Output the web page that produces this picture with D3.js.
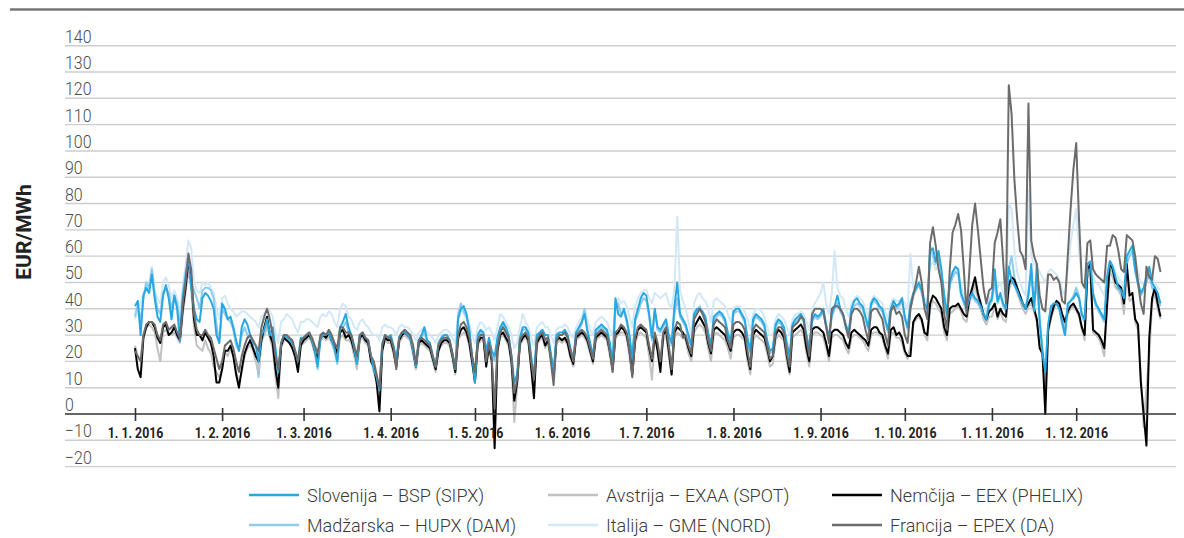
<!DOCTYPE html>
<html>
<head>
<meta charset="utf-8">
<script src="https://cdn.jsdelivr.net/npm/d3@7/dist/d3.min.js"></script>
<style>
  html, body { margin: 0; padding: 0; background: #ffffff; }
  svg { display: block; }
  text { font-family: 'DejaVu Sans Condensed', 'Liberation Sans', sans-serif; }
</style>
</head>
<body>
<svg id="chart" width="1184" height="538"></svg>
<script>
// ---------- DATA (daily prices 2016, EUR/MWh) ----------
const startDate = "2016-01-01";
const monthLabels = ["1. 1. 2016","1. 2. 2016","1. 3. 2016","1. 4. 2016","1. 5. 2016","1. 6. 2016",
                     "1. 7. 2016","1. 8. 2016","1. 9. 2016","1. 10. 2016","1. 11. 2016","1. 12. 2016"];
const yTicks = [-20,-10,0,10,20,30,40,50,60,70,80,90,100,110,120,130,140];

const slovenija = [
 41,43,30,45,48,46,53,44,37,35,45,49,44,36,45,40,28,44,52,60,48,40,36,35,44,46,45,43,40,30,27,
 42,40,36,37,33,28,24,33,36,34,30,27,26,20,30,32,36,30,33,25,16,27,30,29,28,27,24,20,29,
 29,30,31,28,24,18,29,30,30,31,28,25,20,33,35,38,33,30,25,19,30,31,29,28,22,17,14,9,27,30,29,
 30,26,21,29,31,31,30,29,24,18,28,30,33,28,27,22,18,27,29,30,30,28,23,17,36,40,41,38,32,22,
 12,30,32,31,24,29,24,22,29,33,35,33,30,22,12,15,29,33,33,31,22,14,30,31,32,30,30,23,16,30,31,
 31,32,30,25,21,31,33,35,38,32,27,22,32,33,34,33,32,27,19,44,38,37,40,36,30,21,36,40,44,46,
 45,38,29,40,33,32,34,36,30,27,41,50,38,36,34,30,26,38,40,40,39,37,31,26,37,38,39,38,36,31,27,
 39,40,40,38,36,29,24,36,38,37,36,34,28,24,25,34,36,35,33,27,22,34,36,37,38,36,30,25,36,38,37,
 38,40,34,29,38,41,45,40,38,34,31,40,43,44,42,41,37,33,42,44,43,41,40,36,32,40,43,41,42,44,
 37,33,42,46,48,50,47,42,40,62,63,58,62,55,45,38,50,54,56,55,46,43,40,44,46,44,43,41,38,36,42,
 44,55,43,46,42,40,56,51,49,47,44,42,40,45,57,39,57,35,23,16,34,41,42,42,40,35,30,42,43,44,
 46,44,38,36,57,58,46,42,40,38,36,52,58,56,52,48,47,44,60,62,64,55,50,46,48,52,56,50,48,46,42
];
const avstrija = [
 26,22,20,30,33,34,33,31,25,20,31,32,30,30,31,29,27,38,46,55,48,33,26,25,24,28,25,23,18,16,14,
 17,24,22,25,22,16,12,16,22,25,26,24,20,16,27,31,34,29,25,14,6,25,28,28,27,25,21,17,26,
 27,28,29,27,23,20,28,29,28,29,27,24,21,29,30,28,28,27,22,17,28,29,27,26,20,17,12,8,24,28,27,
 27,23,18,27,29,30,29,28,23,17,26,27,26,25,24,20,16,24,26,27,27,26,21,15,28,30,31,30,26,19,
 13,26,28,28,19,25,19,2,24,29,30,28,26,19,-3,10,26,28,29,27,17,12,26,28,29,25,27,21,15,27,28,
 27,28,26,21,18,28,29,30,29,27,23,19,28,29,30,29,28,22,16,29,30,31,31,29,22,15,27,30,31,30,
 29,22,13,29,26,20,28,30,22,15,29,31,30,29,28,23,20,31,33,34,33,31,25,20,30,31,30,29,28,25,21,
 29,30,30,29,28,20,15,28,30,29,28,27,23,18,19,28,30,29,28,20,15,29,30,31,32,30,23,18,30,31,31,
 30,29,25,20,29,30,30,29,28,25,23,29,30,30,29,28,26,24,30,31,31,30,29,25,21,30,31,29,29,27,
 23,21,26,34,36,37,35,30,28,40,43,42,40,38,31,28,38,39,40,41,39,36,35,42,46,49,44,40,36,34,37,
 37,41,36,39,36,35,47,50,49,46,43,40,38,41,42,39,35,26,22,10,31,36,40,42,41,36,33,38,40,41,
 39,37,32,28,52,54,31,30,29,26,22,40,54,52,48,47,45,38,53,43,44,35,32,15,-5,10,22,42,46,40,36
];
const nemcija = [
 25,17,14,29,33,35,35,33,29,27,33,34,30,31,33,30,28,40,48,58,52,36,30,30,28,31,29,27,22,12,12,
 17,24,24,26,22,15,10,17,23,26,28,25,22,20,28,33,37,30,27,17,10,26,29,28,27,25,22,16,26,
 28,29,30,28,24,21,29,30,29,31,28,26,23,31,32,29,30,28,24,20,29,30,28,27,20,18,12,1,24,29,28,
 28,24,18,28,30,31,30,29,24,18,27,28,27,26,25,21,17,24,27,28,28,27,22,16,29,32,33,31,27,20,
 12,27,29,29,18,26,20,-13,24,30,31,29,27,20,5,12,27,29,30,28,18,6,27,29,30,26,28,22,14,28,29,
 28,29,27,22,19,29,30,31,30,28,24,20,29,30,31,30,29,24,17,30,31,33,32,30,24,15,28,32,33,32,
 31,25,20,30,24,16,30,32,24,15,31,33,32,31,29,25,22,33,35,37,35,33,27,23,32,33,32,31,30,27,24,
 31,32,32,31,29,22,17,30,32,31,30,29,25,20,22,30,32,31,29,22,16,31,32,33,34,32,25,20,32,33,33,
 32,31,27,22,31,32,32,31,30,27,25,31,32,31,30,29,28,26,32,33,33,31,30,26,23,32,33,30,31,29,
 24,22,22,35,37,38,36,31,30,42,45,44,42,40,33,30,40,41,41,42,40,38,37,44,48,52,46,42,38,36,39,
 40,42,37,40,38,37,49,52,51,48,45,42,40,42,44,40,36,25,23,0,32,37,41,43,42,38,35,39,41,42,
 40,38,33,30,55,57,32,31,30,28,25,42,58,55,50,49,48,42,57,45,46,36,34,12,0,-12,29,44,48,42,37
];
const madzarska = [
 37,42,35,44,50,48,55,46,40,38,46,48,46,40,45,42,33,46,54,58,50,47,44,40,47,48,48,47,44,34,27,
 40,38,36,35,32,26,24,30,33,30,28,26,22,14,28,30,33,30,29,22,14,26,29,28,27,26,22,18,27,
 27,28,29,27,23,17,28,29,29,30,27,24,19,31,33,35,31,29,24,18,29,30,28,27,21,16,13,9,26,29,28,
 29,25,20,28,30,30,29,28,23,17,27,29,31,27,26,21,17,26,28,29,29,27,22,16,38,42,39,37,31,21,
 14,29,31,30,23,28,23,20,28,32,34,32,29,20,6,12,28,32,32,30,21,13,29,30,31,29,29,22,15,29,30,
 30,31,29,24,20,30,32,34,40,31,26,21,31,32,33,32,31,26,18,40,42,38,39,35,29,20,35,38,42,44,
 43,37,28,39,32,31,33,35,29,26,38,44,37,35,33,29,25,37,39,41,38,36,30,25,36,37,38,37,35,30,26,
 38,39,39,37,35,28,23,35,37,36,35,33,27,23,24,33,35,34,32,26,21,33,35,36,37,35,29,24,35,37,36,
 37,39,33,28,37,40,42,39,37,33,30,39,41,42,41,40,36,32,41,43,42,40,39,35,31,39,42,40,41,43,
 36,32,40,45,47,49,46,41,39,64,60,57,60,54,44,37,49,52,54,53,45,42,39,43,45,43,42,40,37,35,41,
 43,50,42,45,41,39,55,60,52,48,45,42,40,47,52,42,50,36,25,14,33,40,41,42,40,34,30,41,43,45,
 48,45,37,35,54,55,45,41,39,37,35,50,55,54,50,47,46,43,57,60,62,54,49,45,47,50,53,48,46,45,41
];
const italija = [
 36,40,42,46,50,48,56,47,44,42,50,52,49,44,47,44,38,48,57,66,63,50,47,46,50,49,50,48,46,40,36,
 44,45,42,40,39,37,38,39,39,38,37,36,35,33,37,38,40,39,37,31,27,35,36,38,37,36,33,31,35,
 35,36,36,35,34,33,37,38,37,39,38,35,33,40,42,41,37,36,33,32,35,36,34,33,31,30,30,28,33,34,33,
 33,32,30,33,34,33,33,32,30,28,31,32,33,31,30,29,27,30,31,32,32,31,29,27,37,40,38,36,34,30,
 27,33,35,34,32,33,31,28,33,38,37,35,33,30,25,27,33,38,35,33,29,26,33,34,35,33,33,30,27,32,33,
 33,34,33,30,29,33,35,37,40,36,32,30,35,36,37,36,35,32,30,40,44,42,43,41,37,33,41,44,46,47,
 47,44,42,46,45,44,45,46,42,40,48,75,47,43,40,35,30,42,45,46,44,43,40,35,43,44,43,42,41,38,35,
 40,41,41,40,39,36,32,38,40,40,39,37,33,30,30,36,38,37,36,33,30,36,38,38,39,38,35,32,40,42,44,
 46,50,42,38,46,62,48,45,44,40,37,42,44,45,44,43,40,37,43,45,44,43,42,39,36,42,44,43,43,44,
 42,40,61,48,49,50,48,44,42,56,58,55,57,53,46,42,50,53,55,54,49,45,43,46,48,46,45,43,40,39,44,
 45,52,48,50,46,44,80,78,62,54,50,47,45,85,60,57,56,54,52,50,54,55,54,53,51,47,45,55,65,72,
 78,62,52,48,57,58,52,50,49,47,45,55,58,57,54,52,50,48,60,62,64,58,54,50,49,52,55,52,50,48,47
];
const francija = [
 24,22,20,30,34,35,35,34,30,28,34,35,32,33,34,31,29,42,50,61,55,38,32,30,30,32,30,29,25,21,17,
 20,26,27,28,25,20,16,22,26,29,30,28,26,24,33,37,40,36,30,22,17,27,30,30,29,28,24,20,28,
 29,30,31,29,26,23,30,31,30,32,30,27,25,33,33,31,31,30,26,22,30,31,29,28,22,20,15,10,26,30,29,
 29,25,17,29,31,32,31,30,26,19,28,29,28,27,26,22,18,26,28,29,29,28,23,17,30,34,35,33,29,22,
 16,28,30,30,20,27,21,2,25,31,33,31,29,22,8,13,28,30,31,29,20,13,28,30,31,28,29,20,11,28,30,
 30,31,29,24,20,30,31,32,31,29,25,21,30,31,32,31,30,24,16,31,32,34,33,31,24,14,29,33,34,33,
 32,26,21,31,27,20,31,33,26,17,32,35,34,29,30,26,23,36,38,40,38,35,28,24,34,36,35,34,33,28,25,
 34,35,35,34,32,24,18,32,34,33,32,31,26,21,22,31,33,33,31,23,18,33,34,35,37,36,28,22,38,40,40,
 40,39,33,27,40,41,41,40,38,33,29,38,40,40,39,37,32,28,39,40,40,38,36,30,26,39,41,38,39,37,
 30,27,40,45,50,56,50,40,36,65,71,64,55,50,38,32,55,69,72,76,70,55,38,55,72,80,70,59,48,42,47,
 48,65,69,74,58,42,125,114,89,74,62,60,55,118,66,60,57,45,40,39,53,53,51,52,50,43,42,60,78,93,
 103,74,50,48,65,66,55,53,52,51,50,64,64,68,67,62,55,54,68,67,66,60,50,42,38,56,52,51,60,59,54
];

const series = [
  { name: "Italija – GME (NORD)",     values: italija,   color: "#d3e8f7" },
  { name: "Madžarska – HUPX (DAM)",   values: madzarska, color: "#8ecbef" },
  { name: "Avstrija – EXAA (SPOT)",   values: avstrija,  color: "#c2c2c2" },
  { name: "Nemčija – EEX (PHELIX)",   values: nemcija,   color: "#000000" },
  { name: "Slovenija – BSP (SIPX)",   values: slovenija, color: "#27a8e0" },
  { name: "Francija – EPEX (DA)",     values: francija,  color: "#6c6c6c" }
];
const legendOrder = [
  ["Slovenija – BSP (SIPX)", "Avstrija – EXAA (SPOT)", "Nemčija – EEX (PHELIX)"],
  ["Madžarska – HUPX (DAM)", "Italija – GME (NORD)", "Francija – EPEX (DA)"]
];

series.forEach(s => { if (s.values.length !== 366) console.error(s.name + " length " + s.values.length); });

// ---------- DRAW ----------
const svg = d3.select("#chart");
const t0 = d3.timeParse("%Y-%m-%d")(startDate);
const dates = d3.range(366).map(i => d3.timeDay.offset(t0, i));

const x = d3.scaleTime().domain([dates[0], dates[365]]).range([135, 1160.5]);
const y = d3.scaleLinear().domain([0, 140]).range([414, 45.7]);
const gridX0 = 65, gridX1 = 1176;

// top rule
svg.append("line").attr("x1", 10).attr("x2", 1184).attr("y1", 9.5).attr("y2", 9.5)
  .attr("stroke", "#777").attr("stroke-width", 2.6);

// gridlines + y labels
const gy = svg.append("g");
yTicks.forEach(v => {
  if (v !== 0) {
    gy.append("line").attr("x1", gridX0).attr("x2", gridX1)
      .attr("y1", y(v)).attr("y2", y(v))
      .attr("stroke", "#cdcdcd").attr("stroke-width", 1.4);
  }
  gy.append("text")
    .attr("transform", `translate(${gridX0},${y(v) - 3}) scale(0.84,1)`)
    .attr("font-size", 19).attr("fill", "#4d4d4d")
    .style("font-family", "Roboto, 'DejaVu Sans', sans-serif").attr("font-weight", 300)
    .text(v < 0 ? "\u2212" + Math.abs(v) : String(v));
});

// series lines
const line = d3.line().x((d, i) => x(dates[i])).y(d => y(d)).curve(d3.curveLinear);
const gl = svg.append("g");
series.forEach(s => {
  gl.append("path").datum(s.values)
    .attr("fill", "none").attr("stroke", s.color).attr("stroke-width", 2)
    .attr("stroke-linejoin", "round").attr("d", line);
});

// zero axis with month ticks
svg.append("line").attr("x1", gridX0).attr("x2", gridX1).attr("y1", y(0)).attr("y2", y(0))
  .attr("stroke", "#333").attr("stroke-width", 1.6);
const monthStarts = d3.timeMonth.range(t0, d3.timeDay.offset(t0, 366));
const xAxis = d3.axisBottom(x).tickValues(monthStarts)
  .tickSize(7).tickPadding(0)
  .tickFormat((d, i) => monthLabels[i]);
const ga = svg.append("g").attr("transform", `translate(0,${y(0)})`).call(xAxis);
ga.select(".domain").remove();
ga.selectAll(".tick line").attr("y1", -6).attr("y2", 7).attr("stroke", "#333").attr("stroke-width", 1.6);
ga.selectAll(".tick text")
  .attr("y", 0).attr("dy", 0)
  .attr("transform", "translate(0,23.5) scale(0.88,1)")
  .attr("font-size", 14).attr("font-weight", "bold").attr("fill", "#222")
  .style("font-family", "Roboto, 'DejaVu Sans', sans-serif");

// y title
svg.append("text").attr("transform", "translate(31,232) rotate(-90)")
  .attr("text-anchor", "middle").attr("font-size", 21).attr("font-weight", "bold").attr("fill", "#222")
  .style("font-family", "Roboto, 'DejaVu Sans', sans-serif")
  .text("EUR/MWh");

// legend
const colorOf = name => series.find(s => s.name === name).color;
const colX = [249, 548, 832];
const rowY = [495, 525];
legendOrder.forEach((row, r) => row.forEach((name, c) => {
  const g = svg.append("g").attr("transform", `translate(${colX[c]},${rowY[r]})`);
  g.append("line").attr("x1", 0).attr("x2", 50).attr("y1", 0).attr("y2", 0)
    .attr("stroke", colorOf(name)).attr("stroke-width", 2.6);
  g.append("text").attr("transform", "translate(58,6.5) scale(0.95,1)")
    .attr("font-size", 19).attr("fill", "#3a3a3a").attr("font-weight", 300)
    .style("font-family", "Roboto, 'DejaVu Sans', sans-serif")
    .text(name);
}));
</script>
</body>
</html>
